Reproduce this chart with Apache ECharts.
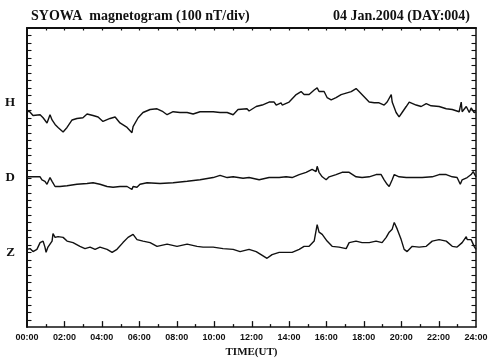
<!DOCTYPE html>
<html>
<head>
<meta charset="utf-8">
<script src="https://cdn.jsdelivr.net/npm/echarts@6/dist/echarts.min.js"></script>
<style>html,body{margin:0;padding:0;background:#fff}#c{width:499px;height:363px}</style>
</head>
<body>
<div id="c"></div>
<script>
var titleLeft = 'SYOWA  magnetogram (100 nT/div)';
var titleRight = '04 Jan.2004 (DAY:004)';
var xTickLabels = ['00:00','02:00','04:00','06:00','08:00','10:00','12:00','14:00','16:00','18:00','20:00','22:00','24:00'];
var xAxisName = 'TIME(UT)';
var componentNames = ['H','D','Z'];
var componentBase = [300,200,100];

var hTime = [0,0.11,0.32,0.70,0.86,1.07,1.23,1.34,1.50,1.66,1.93,2.14,2.41,2.67,2.99,3.21,3.53,3.80,4.06,4.44,4.71,4.97,5.35,5.61,5.67,5.94,6.20,6.58,6.95,7.27,7.49,7.81,8.18,8.56,8.88,9.25,9.63,9.95,10.32,10.70,11.02,11.28,11.76,11.87,12.25,12.57,12.94,13.21,13.32,13.58,13.64,14.01,14.39,14.65,14.81,15.08,15.35,15.51,15.61,15.88,16.04,16.26,16.52,16.79,17.06,17.33,17.59,17.75,18.02,18.29,18.56,18.82,19.09,19.25,19.47,19.52,19.73,19.89,20.05,20.27,20.43,20.80,21.07,21.34,21.60,22.03,22.41,22.73,23.10,23.21,23.26,23.48,23.64,23.74,23.90,24.0];
var hValue = [-13,-11,-17,-16,-20,-27,-16,-23,-29,-33,-39,-33,-23,-21,-20,-15,-17,-19,-25,-21,-19,-27,-33,-40,-32,-20,-13,-9,-8,-12,-16,-12,-13,-13,-15,-12,-12,-12,-13,-13,-16,-9,-8,-11,-5,-3,1,1,-3,0,-3,1,11,15,11,11,17,20,15,15,7,4,7,11,13,15,19,15,8,1,0,0,-3,1,11,1,-13,-19,-13,-5,1,-3,-5,-1,-4,-5,-8,-9,-12,1,-12,-5,-13,-7,-13,-12];

var dTime = [0,0.27,0.53,0.70,0.80,0.96,1.07,1.23,1.34,1.50,1.76,2.14,2.67,3.21,3.53,3.90,4.28,4.60,4.97,5.35,5.61,5.67,5.88,6.04,6.42,7.11,7.81,8.56,9.25,9.95,10.32,10.70,11.02,11.55,11.87,12.41,12.94,13.48,13.85,14.17,14.55,14.92,15.24,15.45,15.51,15.61,15.78,15.99,16.15,16.52,16.84,17.22,17.59,17.91,18.29,18.66,18.93,19.09,19.25,19.36,19.52,19.63,19.89,20.27,20.59,21.12,21.66,22.03,22.41,22.73,22.99,23.16,23.26,23.53,23.74,23.85,24.0];
var dValue = [1,1,1,1,-3,-5,-9,0,-5,-12,-12,-11,-9,-8,-7,-9,-12,-13,-12,-12,-16,-12,-13,-9,-7,-8,-7,-5,-3,0,3,0,1,-1,0,-3,0,0,1,0,4,7,11,8,15,7,1,-3,1,4,7,7,1,0,1,4,4,-3,-9,-12,-3,4,1,0,0,0,1,4,4,1,0,-9,-3,0,4,8,1];

var zTime = [0,0.16,0.32,0.53,0.70,0.86,0.96,1.02,1.12,1.34,1.39,1.50,1.66,1.93,2.14,2.46,2.83,3.10,3.37,3.64,3.90,4.28,4.55,4.81,5.13,5.40,5.67,5.88,6.20,6.58,6.95,7.49,8.02,8.56,9.09,9.41,9.95,10.48,11.02,11.39,11.87,12.25,12.51,12.83,13.10,13.48,13.85,14.17,14.55,14.81,15.08,15.35,15.51,15.61,15.78,16.04,16.31,16.68,17.06,17.22,17.59,17.91,18.29,18.66,18.98,19.20,19.36,19.52,19.63,19.79,20.00,20.16,20.32,20.59,20.96,21.34,21.66,22.03,22.41,22.73,22.99,23.26,23.48,23.53,23.74,23.90,24.0];
var zValue = [4,5,1,4,13,15,7,0,7,15,25,20,21,20,15,13,8,5,7,4,7,4,0,4,13,20,24,17,15,13,8,11,8,11,8,7,7,5,4,1,4,1,-3,-8,-3,0,0,0,4,8,8,15,37,27,24,15,8,7,5,13,15,13,13,15,13,20,27,31,40,31,17,4,1,8,7,8,15,17,15,8,7,13,21,17,17,8,4];

function pts(t, v, base) {
  var out = [];
  for (var i = 0; i < t.length; i++) out.push([t[i], v[i] + base]);
  return out;
}

var serif = 'Liberation Serif';
var chart = echarts.init(document.getElementById('c'), null, {renderer: 'canvas'});
var lineStyle = {color: '#111', width: 1.4};
function mkSeries(t, v, base) {
  return {type: 'line', data: pts(t, v, base), symbol: 'none', lineStyle: lineStyle, animation: false, xAxisIndex: 0, yAxisIndex: 0};
}
chart.setOption({
  backgroundColor: '#fff',
  animation: false,
  title: [
    {text: titleLeft, left: 26, top: 4, textStyle: {fontFamily: serif, fontSize: 14, fontWeight: 'bold', color: '#111'}},
    {text: titleRight, right: 24, top: 4, textStyle: {fontFamily: serif, fontSize: 14, fontWeight: 'bold', color: '#111'}}
  ],
  grid: {left: 27, right: 23, top: 28, bottom: 35, show: false},
  xAxis: [
    {type: 'value', min: 0, max: 24, interval: 2, position: 'bottom',
     name: xAxisName, nameLocation: 'middle', nameGap: 18,
     nameTextStyle: {fontFamily: serif, fontSize: 11, fontWeight: 'bold', color: '#111'},
     axisLine: {show: true, onZero: false, lineStyle: {color: '#111', width: 1.5}},
     axisTick: {show: false}, splitLine: {show: false},
     axisLabel: {fontFamily: 'Liberation Sans', fontSize: 9, fontWeight: 'bold', color: '#111', margin: 6,
       formatter: function (v) { return xTickLabels[Math.round(v / 2)]; }}},
    {type: 'value', min: 0, max: 24, interval: 1, position: 'top',
     axisLine: {show: true, onZero: false, lineStyle: {color: '#111', width: 2}},
     axisTick: {show: false}, splitLine: {show: false}, axisLabel: {show: false}}
  ],
  yAxis: [
    {type: 'value', min: 0, max: 400, interval: 10, position: 'left',
     axisLine: {show: true, onZero: false, lineStyle: {color: '#111', width: 2}},
     axisTick: {show: false}, splitLine: {show: false},
     axisLabel: {show: true, margin: 12, padding: [5, 0, 0, 0], fontFamily: serif, fontSize: 13, fontWeight: 'bold', color: '#111',
       formatter: function (v) { var i = componentBase.indexOf(v); return i >= 0 ? componentNames[i] : ''; }}},
    {type: 'value', min: 0, max: 400, interval: 10, position: 'right',
     axisLine: {show: true, onZero: false, lineStyle: {color: '#111', width: 1.5}},
     axisTick: {show: false}, splitLine: {show: false}, axisLabel: {show: false}}
  ],
  series: [
    mkSeries(hTime, hValue, componentBase[0]),
    mkSeries(dTime, dValue, componentBase[1]),
    mkSeries(zTime, zValue, componentBase[2])
  ]
});

// axis tick marks, placed through the chart's own scales
var ticks = [];
function seg(x1, y1, x2, y2, w) {
  ticks.push({type: 'line', silent: true, z: 10,
    shape: {x1: x1, y1: y1, x2: x2, y2: y2},
    style: {stroke: '#111', lineWidth: w}});
}
var xL = chart.convertToPixel({xAxisIndex: 0}, 0);
var xR = chart.convertToPixel({xAxisIndex: 0}, 24);
var yB = chart.convertToPixel({yAxisIndex: 0}, 0);
var yT = chart.convertToPixel({yAxisIndex: 0}, 400);
for (var v = 10; v < 400; v += 10) {
  var py = Math.round(chart.convertToPixel({yAxisIndex: 0}, v)) + 0.5;
  seg(xL, py, xL + 4.5, py, 1.1);
  seg(xR, py, xR - 4.5, py, 1.1);
}
for (var h = 1; h < 24; h++) {
  var px = Math.round(chart.convertToPixel({xAxisIndex: 0}, h)) + 0.5;
  var len = (h % 2 === 0) ? 6 : 3;
  seg(px, yB, px, yB - len, 1.3);
  seg(px, yT, px, yT + 2.5, 1.2);
}
chart.setOption({graphic: {elements: ticks}});
</script>
</body>
</html>
